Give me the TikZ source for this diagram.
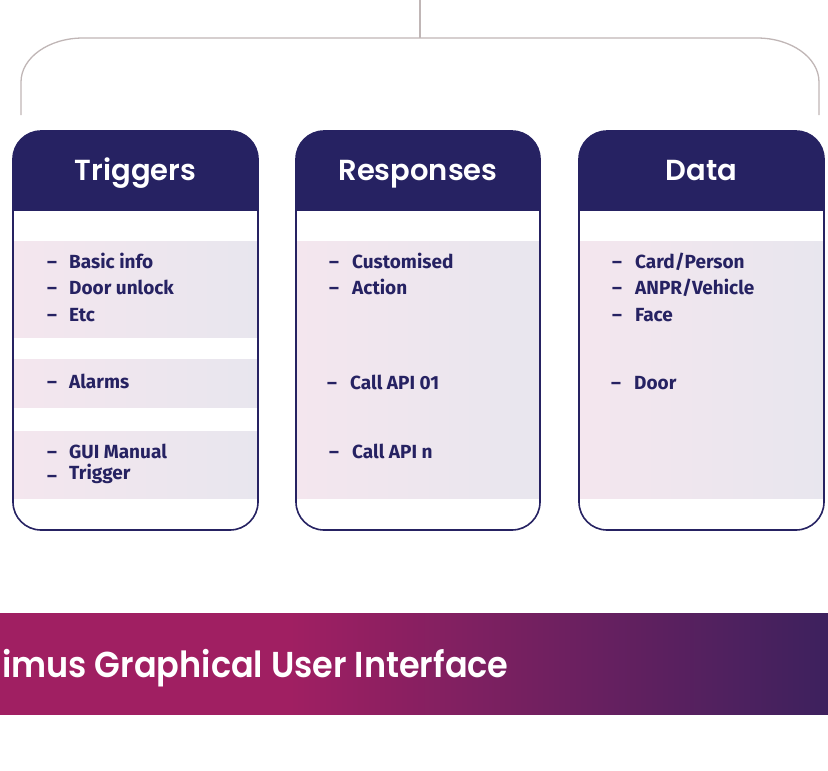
\documentclass[tikz,border=0pt]{standalone}
\usepackage{fontspec}
\usepackage{graphicx}
\setmainfont{Fira Sans}
\newfontfamily\hdfont{Poppins SemiBold}
\definecolor{navy}{RGB}{38,34,98}
\definecolor{bandL}{RGB}{244,230,238}
\definecolor{bandR}{RGB}{232,230,238}
\definecolor{brk}{RGB}{192,182,182}
\definecolor{magen}{RGB}{160,31,98}
\definecolor{purp}{RGB}{61,33,94}
\pgfdeclarehorizontalshading{bannershade}{100bp}{color(0bp)=(magen); color(25bp)=(magen); color(42.5bp)=(magen); color(75bp)=(purp); color(100bp)=(purp)}
\tikzset{
  hd/.style={text=white,font=\hdfont\fontsize{29}{32}\selectfont,anchor=base,inner sep=0pt},
  item/.style={text=navy,font=\bfseries\fontsize{19}{21}\selectfont,anchor=base west,inner sep=0pt},
  band/.style={left color=bandL,right color=bandR},
  border/.style={draw=navy,line width=1.6pt,rounded corners=28pt},
  brack/.style={draw=brk,line width=1.3pt},
  bn/.style={text=white,font=\hdfont\fontsize{36}{40}\selectfont,anchor=base west,inner sep=0pt}
}
\begin{document}
\begin{tikzpicture}[x=1pt,y=-1pt]
\useasboundingbox (0,0) rectangle (828,771);
% bracket
\coordinate (top) at (420,0);
\coordinate (mid) at (420,38);
\coordinate (lend) at (21,115);
\coordinate (rend) at (819,115);
\draw[brack] (top) -- (mid);
\draw[brack] (lend) -- (21,82) arc[start angle=180,end angle=270,x radius=62,y radius=44] -- (757,38) arc[start angle=270,end angle=360,x radius=62,y radius=44] -- (rend);
% Triggers box
\begin{scope}
\clip[rounded corners=28pt] (13,131) rectangle (258,530);
\fill[navy] (13,131) rectangle (258,211);
\shade[band] (13,241) rectangle (258,337);
\shade[band] (13,359) rectangle (258,407);
\shade[band] (13,431) rectangle (258,498);
\end{scope}
\draw[border] (13,131) rectangle (258,530);
% Responses box
\begin{scope}
\clip[rounded corners=28pt] (296,131) rectangle (540,530);
\fill[navy] (296,131) rectangle (540,211);
\shade[band] (296,241) rectangle (540,498);
\end{scope}
\draw[border] (296,131) rectangle (540,530);
% Data box
\begin{scope}
\clip[rounded corners=28pt] (579,131) rectangle (824,530);
\fill[navy] (579,131) rectangle (824,211);
\shade[band] (579,241) rectangle (824,498);
\end{scope}
\draw[border] (579,131) rectangle (824,530);
% headers
\node[hd] (trig) at (135.5,180) {Triggers};
\node[hd] (resp) at (418,180) {Responses};
\node[hd] (data) at (701.5,180) {Data};
% Trigger items
\node[item] (td1) at (47,268) {–}; \node[item] (t1) at (69,268) {Basic info};
\node[item] (td2) at (47,294) {–}; \node[item] (t2) at (69,294) {Door unlock};
\node[item] (td3) at (47,321) {–}; \node[item] (t3) at (69,321) {Etc};
\node[item] (td4) at (47,388) {–}; \node[item] (t4) at (69,388) {Alarms};
\node[item] (td5) at (47,458) {–}; \node[item] (t5) at (69,458) {GUI Manual};
\node[item] (td6) at (47,482) {–}; \node[item] (t6) at (69,479) {Trigger};
% Responses items
\node[item] (rd1) at (329,268) {–}; \node[item] (r1) at (352,268) {Customised};
\node[item] (rd2) at (329,294) {–}; \node[item] (r2) at (352,294) {Action};
\node[item] (rd3) at (327,389) {–}; \node[item] (r3) at (350,389) {Call API 01};
\node[item] (rd4) at (329,458) {–}; \node[item] (r4) at (352,458) {Call API n};
% Data items
\node[item] (dd1) at (612,268) {–}; \node[item] (d1) at (635,268) {Card/Person};
\node[item] (dd2) at (612,294) {–}; \node[item] (d2) at (635,294) {ANPR/Vehicle};
\node[item] (dd3) at (612,321) {–}; \node[item] (d3) at (635,321) {Face};
\node[item] (dd4) at (611,389) {–}; \node[item] (d4) at (634,389) {Door};
% banner
\shade[shading=bannershade] (0,613) rectangle (828,714);
\node[bn] (gui) at (2,677) {\scalebox{0.93}[1]{imus Graphical User Interface}};
\end{tikzpicture}
\end{document}
